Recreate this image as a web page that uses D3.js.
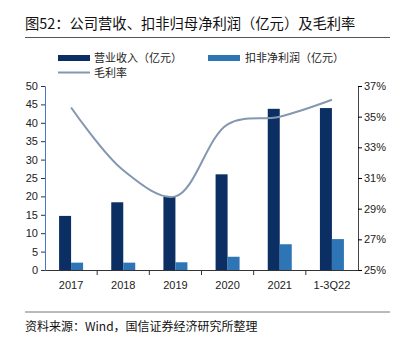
<!DOCTYPE html>
<html>
<head>
<meta charset="utf-8">
<script src="https://cdn.jsdelivr.net/npm/d3@7"></script>
<style>
  body { margin: 0; background: #fff; }
  svg text { font-family: "Liberation Sans", Arial, "Noto Sans CJK SC", sans-serif; }
  .cjk { font-family: "Noto Sans CJK SC", sans-serif; }
</style>
</head>
<body>
<div class="chart"></div>
<script>
const CATEGORIES = ["2017", "2018", "2019", "2020", "2021", "1-3Q22"];
const REVENUE = [14.7, 18.4, 19.9, 26.0, 43.8, 44.0];
const NET_PROFIT = [2.0, 2.0, 2.1, 3.6, 7.0, 8.4];
const GROSS_MARGIN = [35.6, 31.5, 29.8, 34.5, 35.0, 36.1];
const LEFT_TICKS = [0, 5, 10, 15, 20, 25, 30, 35, 40, 45, 50];
const RIGHT_TICKS = [25, 27, 29, 31, 33, 35, 37];

const W = 407, H = 338;
const M = { left: 45, right: 358, top: 86, bottom: 270 };
const DARK = "#0b2f62", LIGHT = "#2e75b6", LINE = "#8497b0";

const svg = d3.select(".chart").append("svg").attr("width", W).attr("height", H);

// title + rules
svg.append("text").attr("class", "cjk")
  .attr("x", 25).attr("y", 29)
  .attr("font-size", 14.3).attr("fill", "#111")
  .text("图52：公司营收、扣非归母净利润（亿元）及毛利率");
svg.append("line").attr("x1", 25).attr("x2", 390).attr("y1", 37.5).attr("y2", 37.5)
  .attr("stroke", "#555").attr("stroke-width", 1);
svg.append("line").attr("x1", 25).attr("x2", 390).attr("y1", 312).attr("y2", 312)
  .attr("stroke", "#777").attr("stroke-width", 1);
svg.append("text").attr("class", "cjk")
  .attr("x", 25).attr("y", 331)
  .attr("font-size", 12).attr("fill", "#111")
  .text("资料来源：Wind，国信证券经济研究所整理");

// scales
const x = d3.scaleBand().domain(CATEGORIES).range([M.left, M.right]);
const yL = d3.scaleLinear().domain([0, 50]).range([M.bottom, M.top]);
const yR = d3.scaleLinear().domain([25, 37]).range([M.bottom, M.top]);
const barW = 12;

// bars
svg.append("g").selectAll("rect").data(REVENUE).enter().append("rect")
  .attr("x", (d, i) => x(CATEGORIES[i]) + x.bandwidth() / 2 - barW)
  .attr("y", d => yL(d))
  .attr("width", barW)
  .attr("height", d => yL(0) - yL(d))
  .attr("fill", DARK);

svg.append("g").selectAll("rect").data(NET_PROFIT).enter().append("rect")
  .attr("x", (d, i) => x(CATEGORIES[i]) + x.bandwidth() / 2)
  .attr("y", d => yL(d))
  .attr("width", barW)
  .attr("height", d => yL(0) - yL(d))
  .attr("fill", LIGHT);

// margin line
const line = d3.line()
  .x((d, i) => x(CATEGORIES[i]) + x.bandwidth() / 2)
  .y(d => yR(d))
  .curve(d3.curveCatmullRom.alpha(0.5));
svg.append("path").datum(GROSS_MARGIN)
  .attr("d", line)
  .attr("fill", "none")
  .attr("stroke", LINE)
  .attr("stroke-width", 2);

// axes
const leftAxis = svg.append("g")
  .attr("transform", `translate(${M.left},0)`)
  .call(d3.axisLeft(yL).tickValues(LEFT_TICKS).tickSize(4).tickSizeOuter(4).tickPadding(3));
leftAxis.select(".domain").attr("stroke", "#4a78c0");
leftAxis.selectAll(".tick line").attr("stroke", "#333");

const rightAxis = svg.append("g")
  .attr("transform", `translate(${M.right},0)`)
  .call(d3.axisRight(yR).tickValues(RIGHT_TICKS).tickSize(4).tickSizeOuter(4).tickPadding(2)
    .tickFormat(d => d + "%"));
rightAxis.select(".domain").attr("stroke", "#444");

const bottomAxis = svg.append("g")
  .attr("transform", `translate(0,${M.bottom})`)
  .call(d3.axisBottom(x).tickSize(0).tickPadding(11));
bottomAxis.select(".domain").attr("stroke", "#333");
// boundary ticks between categories
bottomAxis.selectAll(".sep").data(CATEGORIES.slice(1)).enter().append("line")
  .attr("class", "sep")
  .attr("x1", d => x(d)).attr("x2", d => x(d))
  .attr("y1", 0).attr("y2", 5)
  .attr("stroke", "#333");

svg.selectAll(".tick text").attr("font-size", 11).attr("fill", "#222");

// legend
const legend = svg.append("g").attr("class", "legend");
legend.append("rect").attr("x", 58).attr("y", 55).attr("width", 32).attr("height", 6).attr("fill", DARK);
legend.append("text").attr("class", "cjk").attr("x", 94).attr("y", 62).attr("font-size", 11).attr("fill", "#222")
  .text("营业收入（亿元）");
legend.append("rect").attr("x", 208).attr("y", 55).attr("width", 32).attr("height", 6).attr("fill", LIGHT);
legend.append("text").attr("class", "cjk").attr("x", 245).attr("y", 62).attr("font-size", 11).attr("fill", "#222")
  .text("扣非净利润（亿元）");
legend.append("line").attr("x1", 58).attr("x2", 90).attr("y1", 72.5).attr("y2", 72.5)
  .attr("stroke", LINE).attr("stroke-width", 2);
legend.append("text").attr("class", "cjk").attr("x", 94).attr("y", 77).attr("font-size", 11).attr("fill", "#222")
  .text("毛利率");
</script>
</body>
</html>
